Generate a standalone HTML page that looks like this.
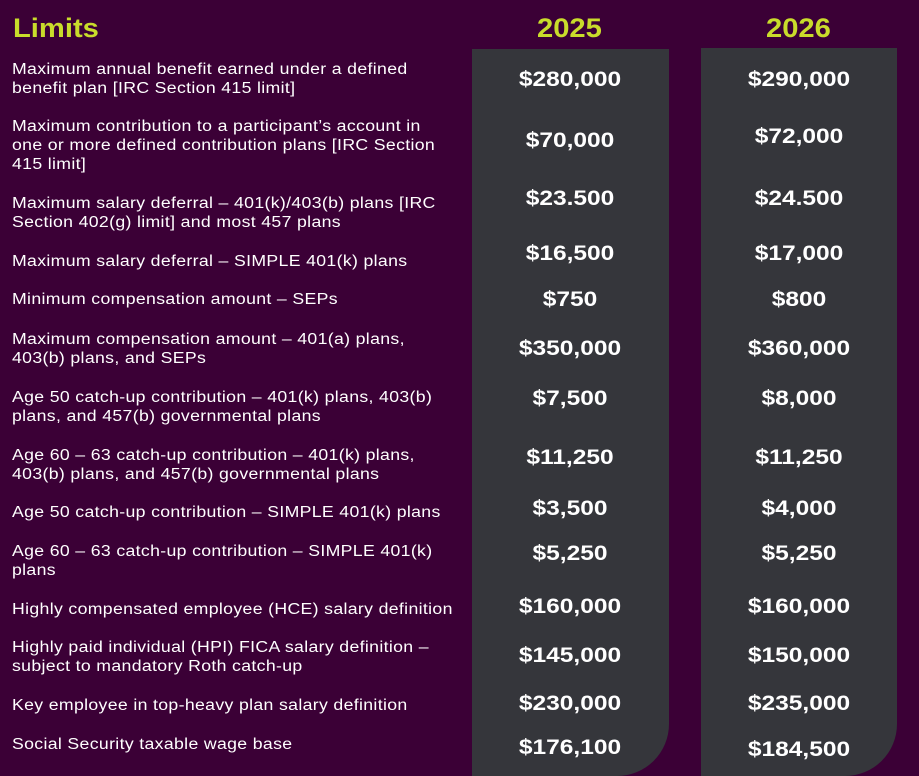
<!DOCTYPE html>
<html><head><style>
body{margin:0;width:919px;height:776px;background:#3b0036;position:relative;overflow:hidden;font-family:"Liberation Sans",sans-serif}
.col{position:absolute;background:#35363b;border-bottom-right-radius:52px}
.h{position:absolute;color:#c9dc2b;font-weight:bold;font-size:27px;line-height:30px;transform:scaleX(1.08);transform-origin:left}
.t{position:absolute;left:12px;color:#fff;font-size:15.5px;line-height:19px;width:450px;letter-spacing:0.3px;transform:scaleX(1.14);transform-origin:left}
.v{position:absolute;color:#fff;font-weight:bold;font-size:21.5px;line-height:24px;text-align:center;width:200px;transform:scaleX(1.14)}
</style></head><body>
<div class="col" style="left:472px;top:49px;width:197px;height:727px"></div>
<div class="col" style="left:701px;top:48px;width:196px;height:728px"></div>
<div class="h" style="left:13px;top:13px">Limits</div>
<div class="h" style="left:537px;top:13px">2025</div>
<div class="h" style="left:766px;top:13px">2026</div>

<div class="t" style="top:60px">Maximum annual benefit earned under a defined<br>benefit plan [IRC Section 415 limit]</div>
<div class="t" style="top:117px">Maximum contribution to a participant’s account in<br>one or more defined contribution plans [IRC Section<br>415 limit]</div>
<div class="t" style="top:194px">Maximum salary deferral – 401(k)/403(b) plans [IRC<br>Section 402(g) limit] and most 457 plans</div>
<div class="t" style="top:252px">Maximum salary deferral – SIMPLE 401(k) plans</div>
<div class="t" style="top:290px">Minimum compensation amount – SEPs</div>
<div class="t" style="top:330px">Maximum compensation amount – 401(a) plans,<br>403(b) plans, and SEPs</div>
<div class="t" style="top:388px">Age 50 catch-up contribution – 401(k) plans, 403(b)<br>plans, and 457(b) governmental plans</div>
<div class="t" style="top:446px">Age 60 – 63 catch-up contribution – 401(k) plans,<br>403(b) plans, and 457(b) governmental plans</div>
<div class="t" style="top:503px">Age 50 catch-up contribution – SIMPLE 401(k) plans</div>
<div class="t" style="top:542px">Age 60 – 63 catch-up contribution – SIMPLE 401(k)<br>plans</div>
<div class="t" style="top:600px">Highly compensated employee (HCE) salary definition</div>
<div class="t" style="top:638px">Highly paid individual (HPI) FICA salary definition –<br>subject to mandatory Roth catch-up</div>
<div class="t" style="top:696px">Key employee in top-heavy plan salary definition</div>
<div class="t" style="top:735px">Social Security taxable wage base</div>

<div class="v" style="left:470px;top:67px">$280,000</div><div class="v" style="left:699px;top:67px">$290,000</div>
<div class="v" style="left:470px;top:128px">$70,000</div><div class="v" style="left:699px;top:124px">$72,000</div>
<div class="v" style="left:470px;top:186px">$23.500</div><div class="v" style="left:699px;top:186px">$24.500</div>
<div class="v" style="left:470px;top:241px">$16,500</div><div class="v" style="left:699px;top:241px">$17,000</div>
<div class="v" style="left:470px;top:287px">$750</div><div class="v" style="left:699px;top:287px">$800</div>
<div class="v" style="left:470px;top:336px">$350,000</div><div class="v" style="left:699px;top:336px">$360,000</div>
<div class="v" style="left:470px;top:386px">$7,500</div><div class="v" style="left:699px;top:386px">$8,000</div>
<div class="v" style="left:470px;top:445px">$11,250</div><div class="v" style="left:699px;top:445px">$11,250</div>
<div class="v" style="left:470px;top:496px">$3,500</div><div class="v" style="left:699px;top:496px">$4,000</div>
<div class="v" style="left:470px;top:541px">$5,250</div><div class="v" style="left:699px;top:541px">$5,250</div>
<div class="v" style="left:470px;top:594px">$160,000</div><div class="v" style="left:699px;top:594px">$160,000</div>
<div class="v" style="left:470px;top:643px">$145,000</div><div class="v" style="left:699px;top:643px">$150,000</div>
<div class="v" style="left:470px;top:691px">$230,000</div><div class="v" style="left:699px;top:691px">$235,000</div>
<div class="v" style="left:470px;top:735px">$176,100</div><div class="v" style="left:699px;top:737px">$184,500</div>
</body></html>
